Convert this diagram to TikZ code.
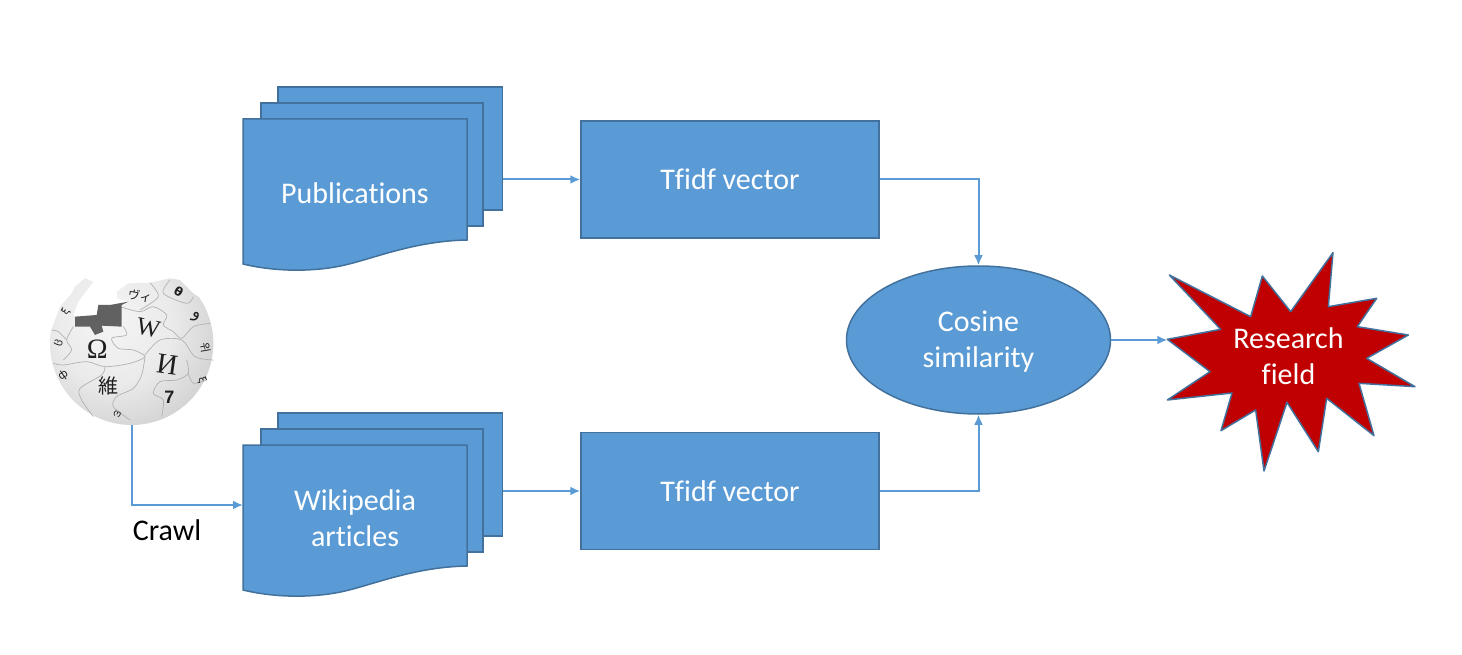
\documentclass[tikz,border=0pt]{standalone}
\usepackage{fontspec}
\usetikzlibrary{arrows.meta,shapes.geometric}
\setmainfont[Ligatures=NoCommon]{Carlito}
\newfontfamily\glserif{Liberation Serif}
\newfontfamily\glcjk{Noto Sans CJK JP}
\newfontfamily\glkr{Noto Sans CJK KR}
\newfontfamily\gldeja{DejaVu Sans}
\newfontfamily\glarab[Script=Arabic]{DejaVu Sans}
\newfontfamily\glheb{Liberation Sans}
\TeXXeTstate=1
\definecolor{boxblue}{HTML}{5B9BD5}
\definecolor{boxedge}{HTML}{41719C}
\definecolor{starred}{HTML}{C00000}
\pgfdeclareradialshading{globeshade}{\pgfpoint{-7bp}{7bp}}{
  color(0bp)=(black!4); color(18bp)=(black!8); color(32bp)=(black!17); color(44bp)=(black!30); color(52bp)=(black!45); color(60bp)=(black!62); color(100bp)=(black!62)}
\tikzset{
  x=1pt,y=-1pt,
  sheet/.style={draw=boxedge,line width=1.5pt,fill=boxblue},
  blockbox/.style={sheet,rectangle,minimum width=298pt,minimum height=117pt,inner sep=0pt,text=white,font=\fontsize{30}{36}\selectfont},
  label/.style={text=white,font=\fontsize{30}{36}\selectfont,align=center,inner sep=0pt},
  flow/.style={draw=boxblue,line width=2pt,-{Latex[length=10pt,width=9pt]}},
  puz/.style={draw=black!30,line width=.7pt},
  glyph/.style={text=black!88,inner sep=0pt},
  docstack/.pic={
    \draw[sheet] (278,87) -- (502.5,87) -- (502.5,210) -- (278,210) -- cycle;
    \draw[sheet] (261,103) -- (483,103) -- (483,226) -- (261,226) -- cycle;
    \draw[sheet] (243,119) -- (467,119) -- (467,240)
      .. controls (415,241) and (375,258) .. (345,265)
      .. controls (320,271) and (280,273) .. (243,264) -- cycle;
  }
}
\begin{document}
\begin{tikzpicture}
\useasboundingbox (0,0) rectangle (1462,655);
% globe
\node[circle,minimum size=163pt,inner sep=0pt] (globe) at (132,343.5) {};
\begin{scope}[shift={(30,260)},x=.33333pt,y=-.33333pt]
  \begin{scope}
    \clip (0,600) -- (0,230) -- (62,215) -- (90,140) -- (125,100) -- (135,80) -- (165,55) -- (190,65) -- (170,92) -- (145,125) -- (130,165) -- (135,170) -- (200,165) -- (205,135) -- (240,135) -- (295,125) -- (262,115) -- (260,95) -- (295,70) -- (360,68) -- (420,55) -- (450,60) -- (490,100) -- (520,120) -- (600,190) -- (600,600) -- cycle;
    \shade[shading=globeshade] (305,250) circle[radius=81.67pt];
    \draw[puz] plot[smooth] coordinates {(270,140) (330,155) (370,140) (410,165) (400,195) (430,215) (455,235) (490,200) (540,190)};
    \draw[puz] plot[smooth] coordinates {(280,200) (290,225) (245,235) (265,265) (310,270) (345,290) (300,310) (225,320) (170,305) (100,315) (70,310)};
    \draw[puz] plot[smooth] coordinates {(345,285) (390,240) (455,240) (495,290) (550,300)};
    \draw[puz] plot[smooth] coordinates {(225,320) (215,345) (150,385) (155,420) (190,470)};
    \draw[puz] plot[smooth] coordinates {(345,290) (335,345) (310,385) (260,410) (250,440) (300,480)};
    \draw[puz] plot[smooth] coordinates {(130,200) (110,240) (125,270) (100,300)};
    \draw[puz] plot[smooth] coordinates {(110,240) (85,215) (65,210)};
    \draw[puz] plot[smooth] coordinates {(470,300) (475,340) (440,360) (390,365) (370,400) (400,420) (395,470)};
    \draw[puz] plot[smooth] coordinates {(475,340) (490,370) (530,360)};
    \draw[puz] plot[smooth] coordinates {(360,68) (385,110) (330,150)};
    \draw[puz] plot[smooth] coordinates {(420,60) (400,100) (470,130) (490,110)};
  \end{scope}
  \fill[black!62] (135,170) -- (200,165) -- (205,135) -- (240,135) -- (295,125) -- (275,135) -- (275,200) -- (215,197) -- (220,215) -- (195,225) -- (180,200) -- (135,200) -- cycle;
  \node[glyph,font=\glserif\fontsize{28}{28}\selectfont] (gomega) at (202,268) {Ω};
  \node[glyph,font=\glserif\fontsize{25}{25}\selectfont,rotate=-12] (gw) at (355,205) {W};
  \node[glyph,font=\glserif\fontsize{29}{29}\selectfont,rotate=-8] (gi) at (412,315) {И};
  \node[glyph,font=\glcjk\fontsize{20}{20}\selectfont] (gwei) at (236,378) {維};
  \node[glyph,font=\glcjk\fontsize{12}{12}\selectfont,rotate=-10] (gvi) at (330,108) {ヴィ};
  \node[glyph,font=\glheb\bfseries\fontsize{18}{18}\selectfont] (gseven) at (418,412) {7};
  \node[glyph,font=\glarab\fontsize{17}{17}\selectfont,rotate=-15] (gwaw) at (497,170) {\beginR و\endR};
  \node[glyph,font=\glkr\fontsize{11}{11}\selectfont,rotate=-80] (gwi) at (526,262) {위};
  \node[glyph,font=\gldeja\fontsize{11}{11}\selectfont,rotate=70] (gl1) at (85,250) {ც};
  \node[glyph,font=\gldeja\fontsize{11}{11}\selectfont,rotate=35] (gl2) at (100,345) {ф};
  \node[glyph,font=\gldeja\fontsize{10}{10}\selectfont,rotate=-20] (gl3) at (262,462) {ო};
  \node[glyph,font=\gldeja\fontsize{10}{10}\selectfont,rotate=60] (gl4) at (108,155) {ξ};
  \node[glyph,font=\gldeja\bfseries\fontsize{12}{12}\selectfont,rotate=-30] (gl5) at (446,95) {θ};
  \node[glyph,font=\gldeja\fontsize{10}{10}\selectfont,rotate=-70] (gl6) at (516,362) {ξ};
\end{scope}
% document stacks
\path (0,0) pic {docstack};
\path (0,326) pic {docstack};
\node[label] (pub) at (355,193) {Publications};
\node[label] (wiki) at (355,518.5) {Wikipedia\\articles};
\coordinate (pubout) at (502.5,179.5);
\coordinate (wikiout) at (502.5,491);
\coordinate (wikiin) at (243,505);
% blocks
\node[blockbox] (tf1) at (730,179.5) {Tfidf vector};
\node[blockbox] (tf2) at (730,491) {Tfidf vector};
\node[sheet,ellipse,minimum width=264pt,minimum height=148pt,inner sep=0pt] (cos) at (978.5,340) {};
\node[label] (costext) at (978.5,342) {Cosine\\similarity};
% star
\begin{scope}[shift={(1150,240)},x=.33333pt,y=-.33333pt]
  \draw[draw=boxedge,line width=1.5pt,fill=starred,line join=round]
    (52,298) -- (212,268) -- (58,105) -- (302,230) -- (337,108) -- (422,215) -- (549,38) -- (535,200) -- (680,175) -- (622,260) -- (775,285) -- (650,355) -- (795,440) -- (627,430) -- (672,587) -- (530,475) -- (505,635) -- (411,487) -- (342,693) -- (317,510) -- (213,572) -- (246,459) -- (52,480) -- (180,395) -- cycle;
  \coordinate (starin) at (52,298);
\end{scope}
\node[label] (research) at (1288.5,356.5) {Research\\field};
% connectors
\draw[flow] (pubout) -- (tf1.west |- pubout);
\draw[flow] (wikiout) -- (tf2.west |- wikiout);
\draw[flow] (tf1.east) -| (cos.north);
\draw[flow] (tf2.east) -| (cos.south);
\draw[flow] (cos.east) -- (starin |- cos.east);
\draw[flow] (globe.south) |- (wikiin);
\node[inner sep=0pt,font=\fontsize{30}{36}\selectfont] (crawl) at (167,530.5) {Crawl};
\end{tikzpicture}
\end{document}
